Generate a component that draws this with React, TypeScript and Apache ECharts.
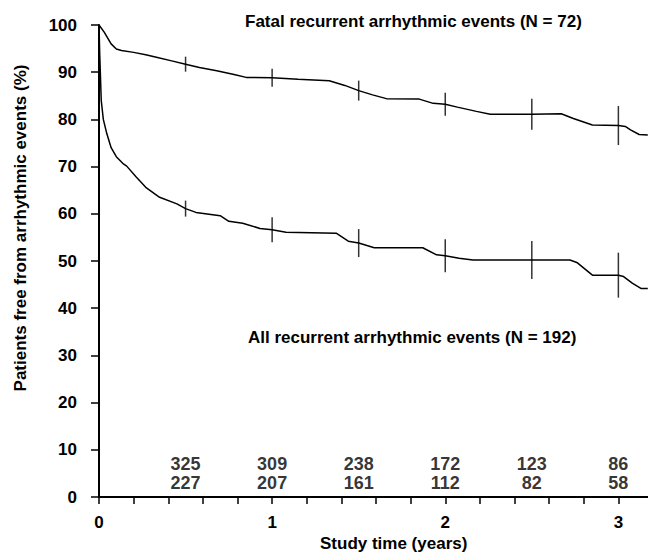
import React, { useEffect, useRef } from "react";
import * as echarts from "echarts";

// ---- data ----
const fatalTimes = [0, 0.03, 0.07, 0.1, 0.13, 0.2, 0.27, 0.35, 0.42, 0.5, 0.58, 0.68, 0.78, 0.85, 1.0, 1.15, 1.33, 1.42, 1.5, 1.58, 1.66, 1.85, 1.93, 2.0, 2.07, 2.18, 2.26, 2.5, 2.67, 2.74, 2.85, 3.0, 3.04, 3.07, 3.12, 3.17];
const fatalValues = [100, 98.5, 96, 94.9, 94.6, 94.2, 93.7, 93.0, 92.4, 91.7, 91.0, 90.3, 89.5, 88.9, 88.8, 88.5, 88.2, 87.2, 86.1, 85.2, 84.4, 84.3, 83.4, 83.2, 82.6, 81.7, 81.1, 81.1, 81.2, 80.2, 78.8, 78.7, 78.5, 77.8, 76.8, 76.7];

const allTimes = [0, 0.004, 0.013, 0.025, 0.045, 0.07, 0.1, 0.137, 0.16, 0.215, 0.27, 0.35, 0.45, 0.5, 0.56, 0.7, 0.75, 0.83, 0.93, 1.0, 1.08, 1.37, 1.44, 1.5, 1.59, 1.87, 1.95, 2.0, 2.08, 2.16, 2.72, 2.76, 2.85, 3.0, 3.03, 3.08, 3.13, 3.17];
const allValues = [100, 94, 84, 80, 77, 74, 72.1, 70.7, 70.1, 67.8, 65.6, 63.5, 62.1, 61.1, 60.3, 59.6, 58.4, 58.0, 56.9, 56.6, 56.1, 55.9, 54.2, 53.8, 52.8, 52.8, 51.3, 51.1, 50.6, 50.2, 50.2, 49.7, 47.0, 47.0, 46.7, 45.3, 44.2, 44.2];

const censorTimes = [0.5, 1, 1.5, 2, 2.5, 3];
const fatalCensorValues = [91.7, 88.8, 86.1, 83.2, 81.1, 78.7];
const allCensorValues = [61.1, 56.6, 53.8, 51.1, 50.2, 47.0];

const atRiskFatal = [325, 309, 238, 172, 123, 86];
const atRiskAll = [227, 207, 161, 112, 82, 58];

const fatalLabel = "Fatal recurrent arrhythmic events (N = 72)";
const allLabel = "All recurrent arrhythmic events (N = 192)";
const xTitle = "Study time (years)";
const yTitle = "Patients free from arrhythmic events (%)";

// ---- styling constants ----
const FONT_FAMILY = '"Liberation Sans", Arial, Helvetica, sans-serif';
const fatalCensorHeights = [15, 18, 20, 23, 31, 39];
const allCensorHeights = [16, 25, 28, 33, 38, 45];
const riskRow1Y = 7.0;
const riskRow2Y = 3.0;

function buildOption() {
  const textStyle = (size: number) => ({
    fontFamily: FONT_FAMILY,
    fontWeight: "bold" as const,
    fontSize: size,
    color: "#000",
  });

  const gText = (text: string, x: number, y: number, align: string, extra: any = {}) => ({
    type: "text",
    x,
    y,
    ...extra,
    silent: true,
    style: {
      text,
      font: `bold 17px ${FONT_FAMILY}`,
      fill: "#000",
      textAlign: align,
      align,
      textVerticalAlign: "middle",
      verticalAlign: "middle",
    },
  });

  const censorSeries = (values: number[], heights: number[]) => ({
    type: "scatter",
    silent: true,
    symbol: "rect",
    itemStyle: { color: "#000" },
    data: censorTimes.map((t, i) => ({ value: [t, values[i]], symbolSize: [1.5, heights[i]] })),
    z: 3,
  });

  const riskSeries = (counts: number[], rowY: number) => ({
    type: "scatter",
    silent: true,
    symbolSize: 1,
    itemStyle: { color: "rgba(0,0,0,0)" },
    label: {
      show: true,
      position: "inside",
      formatter: (p: any) => String(p.value[2]),
      ...textStyle(18),
    },
    data: censorTimes.map((t, i) => ({ value: [t, rowY, counts[i]] })),
    z: 4,
  });

  return {
    animation: false,
    backgroundColor: "#fff",
    grid: {
      left: 99,
      right: -5,
      top: 25,
      bottom: 55,
      containLabel: false,
      outerBoundsMode: "none",
    },
    xAxis: {
      type: "value",
      min: 0,
      max: 3.2,
      interval: 0.2,
      axisLine: { show: true, onZero: false, lineStyle: { color: "#000", width: 2 } },
      axisTick: { show: true, length: 7, lineStyle: { color: "#000", width: 1.5 } },
      axisLabel: {
        margin: 17,
        ...textStyle(17),
        formatter: (v: number) => (Math.abs(v - Math.round(v)) < 1e-6 ? String(Math.round(v)) : ""),
      },
      splitLine: { show: false },
    },
    yAxis: {
      type: "value",
      min: 0,
      max: 100,
      interval: 10,
      axisLine: { show: true, onZero: false, lineStyle: { color: "#000", width: 2 } },
      axisTick: { show: true, length: 8, lineStyle: { color: "#000", width: 1.5 } },
      axisLabel: { margin: 22, padding: [5, 0, 0, 0], ...textStyle(17) },
      splitLine: { show: false },
    },
    graphic: [
      gText(fatalLabel, 245, 21, "left"),
      gText(allLabel, 248, 337, "left"),
      gText(xTitle, 320, 543, "left"),
      gText(yTitle, 20, 228, "center", { rotation: Math.PI / 2 }),
    ],
    series: [
      {
        type: "line",
        silent: true,
        showSymbol: false,
        symbol: "none",
        lineStyle: { color: "#000", width: 1.5 },
        data: fatalTimes.map((t, i) => [t, fatalValues[i]]),
        z: 2,
      },
      {
        type: "line",
        silent: true,
        showSymbol: false,
        symbol: "none",
        lineStyle: { color: "#000", width: 1.5 },
        data: allTimes.map((t, i) => [t, allValues[i]]),
        z: 2,
      },
      censorSeries(fatalCensorValues, fatalCensorHeights),
      censorSeries(allCensorValues, allCensorHeights),
      riskSeries(atRiskFatal, riskRow1Y),
      riskSeries(atRiskAll, riskRow2Y),
    ],
  };
}

export default function App() {
  const ref = useRef<HTMLDivElement>(null);
  useEffect(() => {
    if (!ref.current) return;
    const chart = echarts.init(ref.current, null, { renderer: "svg" });
    chart.setOption(buildOption() as any);
    return () => chart.dispose();
  }, []);
  return (
    <div
      ref={ref}
      style={{ position: "absolute", left: 0, top: 0, width: 648, height: 552, background: "#fff" }}
    />
  );
}
